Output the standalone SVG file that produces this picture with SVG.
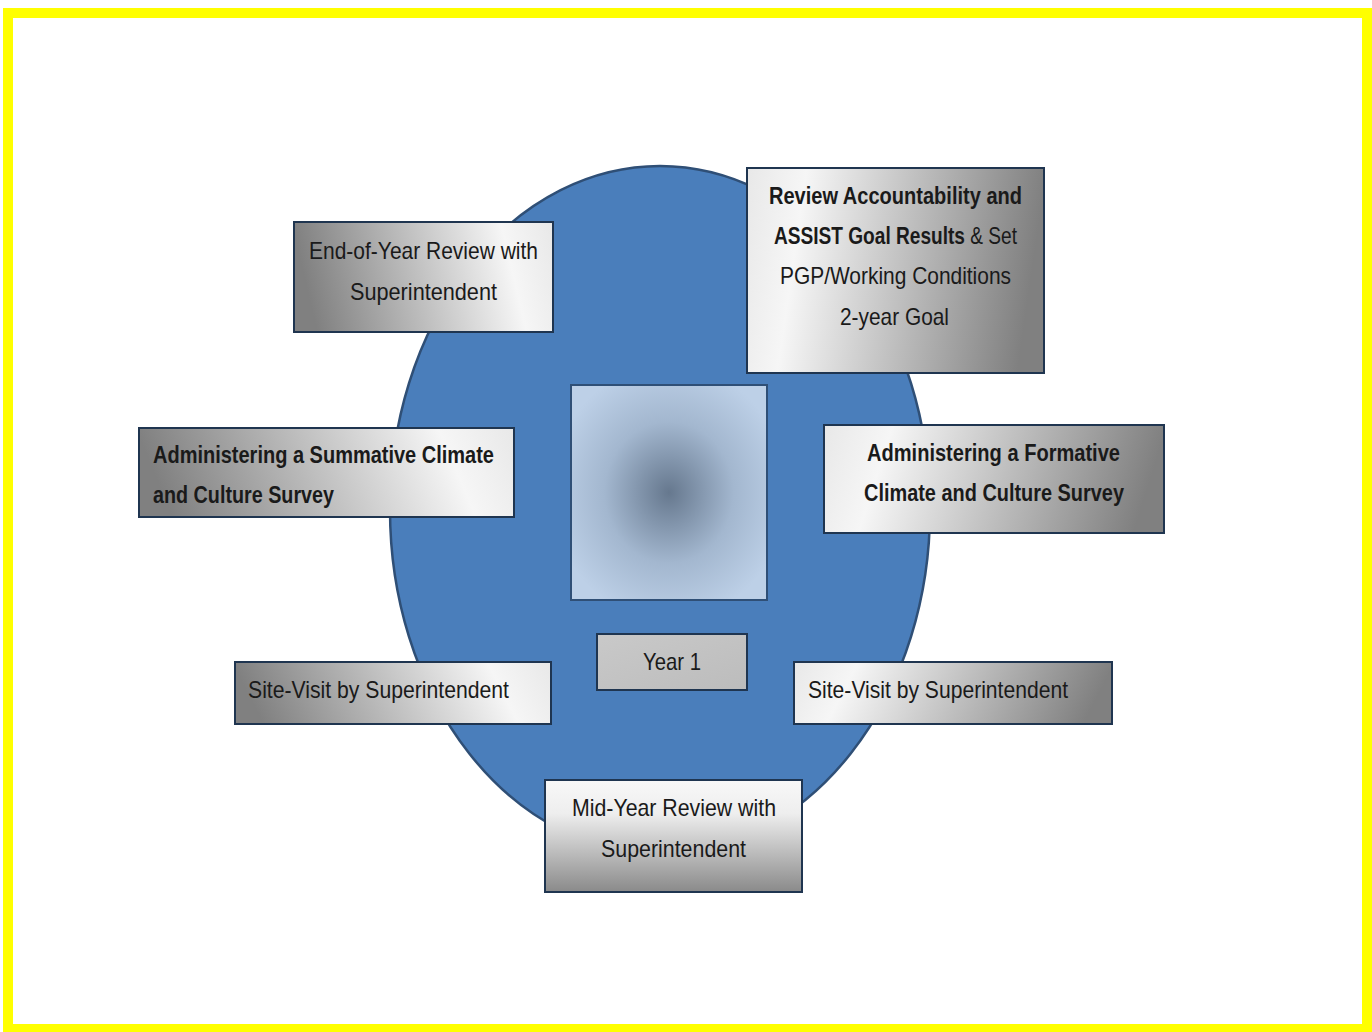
<svg xmlns="http://www.w3.org/2000/svg" width="1372" height="1032" viewBox="0 0 1372 1032">
  <style>
    .box { stroke: #1f3550; stroke-width: 2; }
    .t { font-family: "Liberation Sans", Arial, sans-serif; font-size: 24px; fill: #1a1a1a; }
    .b { font-weight: bold; }
  </style>
  <defs>
    <linearGradient id="gL" x1="0" y1="0.1" x2="1" y2="0">
      <stop offset="0" stop-color="#808080"/>
      <stop offset="0.8" stop-color="#f6f6f6"/>
      <stop offset="1" stop-color="#e8e8e8"/>
    </linearGradient>
    <linearGradient id="gR" x1="1" y1="0.1" x2="0" y2="0">
      <stop offset="0" stop-color="#808080"/>
      <stop offset="0.8" stop-color="#f6f6f6"/>
      <stop offset="1" stop-color="#e8e8e8"/>
    </linearGradient>
    <linearGradient id="gV" x1="0" y1="0" x2="0" y2="1">
      <stop offset="0" stop-color="#f8f8f8"/>
      <stop offset="0.3" stop-color="#eeeeee"/>
      <stop offset="1" stop-color="#8a8a8a"/>
    </linearGradient>
    <linearGradient id="gY" x1="0" y1="0" x2="1" y2="1">
      <stop offset="0" stop-color="#c9c9c9"/>
      <stop offset="1" stop-color="#bcbcbc"/>
    </linearGradient>
    <radialGradient id="gC" cx="0.5" cy="0.5" r="0.6">
      <stop offset="0" stop-color="#66788e"/>
      <stop offset="0.55" stop-color="#a3b7cf"/>
      <stop offset="1" stop-color="#bdd0e7"/>
    </radialGradient>
  </defs>

  <rect x="8" y="13" width="1359" height="1016" fill="#ffffff" stroke="#ffff00" stroke-width="10"/>

  <g id="cycle">
    <ellipse cx="660" cy="510" rx="270" ry="344" fill="#4a7ebb" stroke="#2f4f76" stroke-width="2.5"/>
  </g>

  <g id="center">
    <rect x="571" y="385" width="196" height="215" fill="url(#gC)" stroke="#2f4f76" stroke-width="2"/>
  </g>

  <g id="connectors"></g>

  <g id="end-of-year">
    <rect class="box" x="294" y="222" width="259" height="110" fill="url(#gL)"/>
    <text class="t" x="309" y="259" textLength="229" lengthAdjust="spacingAndGlyphs">End-of-Year Review with</text>
    <text class="t" x="350" y="300" textLength="147" lengthAdjust="spacingAndGlyphs">Superintendent</text>
  </g>

  <g id="review-accountability">
    <rect class="box" x="747" y="168" width="297" height="205" fill="url(#gR)"/>
    <text class="t b" x="769" y="204" textLength="253" lengthAdjust="spacingAndGlyphs">Review Accountability and</text>
    <text class="t" x="774" y="244" textLength="243" lengthAdjust="spacingAndGlyphs"><tspan class="b">ASSIST Goal Results</tspan> &amp; Set</text>
    <text class="t" x="780" y="284" textLength="231" lengthAdjust="spacingAndGlyphs">PGP/Working Conditions</text>
    <text class="t" x="840" y="325" textLength="109" lengthAdjust="spacingAndGlyphs">2-year Goal</text>
  </g>

  <g id="summative-survey">
    <rect class="box" x="139" y="428" width="375" height="89" fill="url(#gL)"/>
    <text class="t b" x="153" y="463" textLength="341" lengthAdjust="spacingAndGlyphs">Administering a Summative Climate</text>
    <text class="t b" x="153" y="503" textLength="181" lengthAdjust="spacingAndGlyphs">and Culture Survey</text>
  </g>

  <g id="formative-survey">
    <rect class="box" x="824" y="425" width="340" height="108" fill="url(#gR)"/>
    <text class="t b" x="867" y="461" textLength="253" lengthAdjust="spacingAndGlyphs">Administering a Formative</text>
    <text class="t b" x="864" y="501" textLength="260" lengthAdjust="spacingAndGlyphs">Climate and Culture Survey</text>
  </g>

  <g id="year-1">
    <rect class="box" x="597" y="634" width="150" height="56" fill="url(#gY)"/>
    <text class="t" x="643" y="670" textLength="58" lengthAdjust="spacingAndGlyphs">Year 1</text>
  </g>

  <g id="site-visit-left">
    <rect class="box" x="235" y="662" width="316" height="62" fill="url(#gL)"/>
    <text class="t" x="248" y="698" textLength="261" lengthAdjust="spacingAndGlyphs">Site-Visit by Superintendent</text>
  </g>

  <g id="site-visit-right">
    <rect class="box" x="794" y="662" width="318" height="62" fill="url(#gR)"/>
    <text class="t" x="808" y="698" textLength="260" lengthAdjust="spacingAndGlyphs">Site-Visit by Superintendent</text>
  </g>

  <g id="mid-year">
    <rect class="box" x="545" y="780" width="257" height="112" fill="url(#gV)"/>
    <text class="t" x="572" y="816" textLength="204" lengthAdjust="spacingAndGlyphs">Mid-Year Review with</text>
    <text class="t" x="601" y="857" textLength="145" lengthAdjust="spacingAndGlyphs">Superintendent</text>
  </g>
</svg>
